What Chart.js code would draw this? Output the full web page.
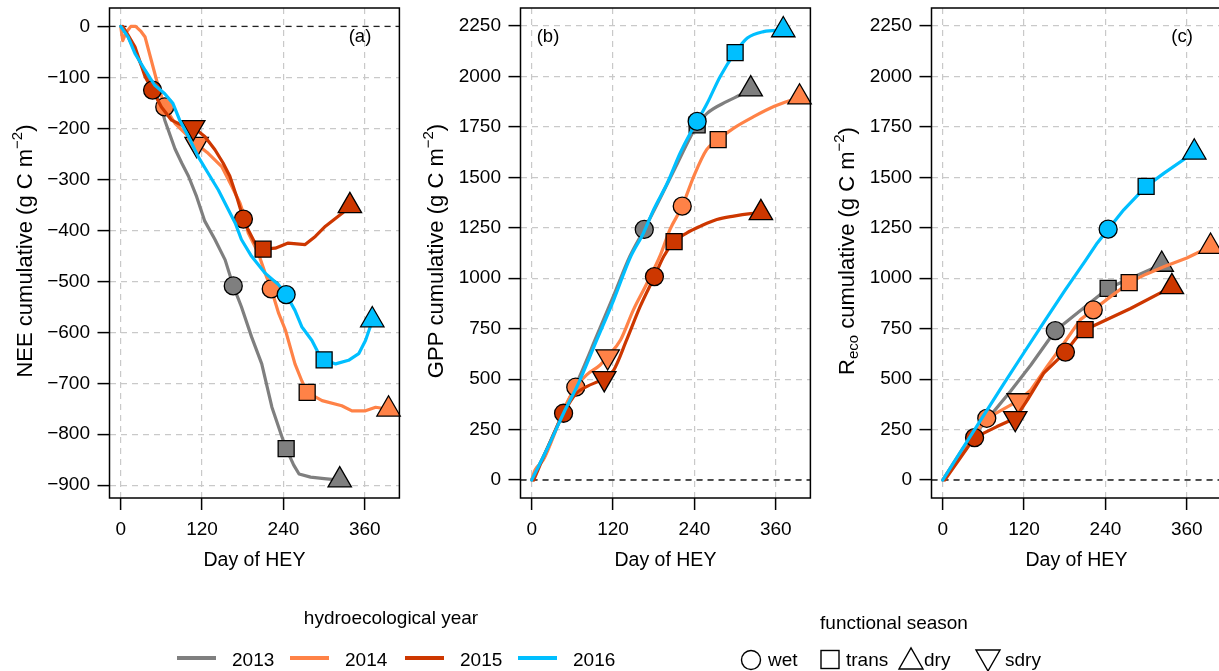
<!DOCTYPE html>
<html><head><meta charset="utf-8">
<script src="https://cdn.jsdelivr.net/npm/chart.js@4"></script>
<style>
html,body{margin:0;padding:0;background:#fff;overflow:hidden;}
#wrap{position:relative;width:1219px;height:671px;overflow:hidden;background:#fff;}
canvas.panel{position:absolute;top:0;}
#legend{position:absolute;left:0;top:0;}
#legend text{font-family:"Liberation Sans",Arial,sans-serif;font-size:19px;fill:#000;}
</style></head>
<body>
<div id="wrap">
<canvas id="pa" class="panel" width="411" height="580" style="left:0px"></canvas>
<canvas id="pb" class="panel" width="411" height="580" style="left:411px"></canvas>
<canvas id="pc" class="panel" width="411" height="580" style="left:822px"></canvas>
<svg id="legend" width="1219" height="671">
  <text x="391" y="617" text-anchor="middle" dominant-baseline="central">hydroecological year</text>
  <line x1="177" x2="216" y1="658" y2="658" stroke="#7f7f7f" stroke-width="4"/>
  <text x="232" y="659" dominant-baseline="central">2013</text>
  <line x1="290" x2="329" y1="658" y2="658" stroke="#ff8247" stroke-width="4"/>
  <text x="345" y="659" dominant-baseline="central">2014</text>
  <line x1="405" x2="444" y1="658" y2="658" stroke="#cd3700" stroke-width="4"/>
  <text x="460" y="659" dominant-baseline="central">2015</text>
  <line x1="518" x2="557" y1="658" y2="658" stroke="#00bfff" stroke-width="4"/>
  <text x="573" y="659" dominant-baseline="central">2016</text>
  <text x="894" y="622" text-anchor="middle" dominant-baseline="central">functional season</text>
  <circle cx="751" cy="660" r="9.5" fill="none" stroke="#000" stroke-width="1.4"/>
  <text x="768" y="659" dominant-baseline="central">wet</text>
  <rect x="821" y="650.5" width="18" height="18" fill="none" stroke="#000" stroke-width="1.4"/>
  <text x="846" y="659" dominant-baseline="central">trans</text>
  <polygon points="899,669 923,669 911,648" fill="none" stroke="#000" stroke-width="1.4"/>
  <text x="924" y="659" dominant-baseline="central">dry</text>
  <polygon points="976,650 1000,650 988,671" fill="none" stroke="#000" stroke-width="1.4"/>
  <text x="1005" y="659" dominant-baseline="central">sdry</text>
</svg>
</div>
<script>
// ---------------- DATA ----------------
const years = ['2013', '2014', '2015', '2016'];
const xTickValues = [0, 120, 240, 360];
const neeTickValues = [0, -100, -200, -300, -400, -500, -600, -700, -800, -900];
const fluxTickValues = [0, 250, 500, 750, 1000, 1250, 1500, 1750, 2000, 2250];

// NEE cumulative lines (day of HEY, g C m-2)
const neeDay2013 = [0, 10, 20, 30, 40, 50, 60, 65, 80, 90, 100, 112, 124, 139, 154, 166, 178, 193, 208, 223, 238, 244, 255, 263, 280, 300, 323];
const nee2013 = [0, -18, -45, -75, -100, -125, -160, -184, -240, -268, -294, -334, -382, -418, -458, -509, -550, -609, -662, -747, -806, -828, -860, -878, -884, -887, -890];
const neeDay2014 = [0, 3, 8, 15, 22, 30, 36, 45, 53, 65, 80, 100, 112, 129, 149, 164, 176, 184, 188, 203, 213, 222, 233, 243, 257, 267, 275, 297, 326, 341, 361, 376, 395];
const nee2014 = [0, -28, -12, 0, 0, -10, -21, -66, -106, -158, -190, -216, -231, -249, -275, -314, -347, -379, -405, -445, -484, -515, -563, -596, -662, -695, -718, -734, -744, -754, -754, -747, -751];
const neeDay2015 = [3, 10, 21, 36, 47, 60, 75, 95, 107, 124, 139, 151, 161, 171, 181, 188, 198, 210, 228, 247, 272, 287, 302, 327, 338];
const nee2015 = [0, -15, -40, -99, -125, -158, -184, -197, -198, -216, -242, -268, -294, -334, -378, -399, -425, -437, -435, -425, -428, -412, -392, -366, -352];
const neeDay2016 = [0, 11, 21, 36, 50, 65, 77, 87, 100, 114, 129, 144, 159, 169, 178, 193, 213, 233, 244, 257, 267, 282, 292, 300, 317, 336, 351, 361, 368, 371];
const nee2016 = [0, -21, -53, -86, -115, -132, -151, -184, -216, -255, -288, -321, -360, -386, -418, -451, -484, -507, -526, -557, -589, -616, -642, -654, -662, -655, -642, -616, -589, -576];

// GPP cumulative lines
const gppDay2013 = [0, 22, 47, 69, 96, 121, 145, 166, 190, 215, 244, 259, 288, 308, 323];
const gpp2013 = [0, 150, 340, 500, 715, 915, 1110, 1242, 1400, 1570, 1760, 1818, 1876, 1909, 1937];
const gppDay2014 = [0, 5, 17, 32, 47, 65, 81, 101, 112, 131, 150, 170, 190, 204, 222, 239, 258, 275, 298, 328, 357, 395];
const gpp2014 = [0, 50, 99, 215, 347, 460, 521, 570, 612, 694, 843, 975, 1117, 1242, 1357, 1505, 1637, 1687, 1744, 1802, 1851, 1897];
const gppDay2015 = [3, 22, 47, 66, 81, 107, 121, 140, 160, 181, 195, 210, 229, 249, 273, 298, 323, 338];
const gpp2015 = [0, 149, 331, 430, 463, 504, 545, 694, 860, 1008, 1110, 1181, 1225, 1258, 1291, 1308, 1320, 1324];
const gppDay2016 = [0, 22, 47, 69, 96, 121, 145, 165, 180, 200, 219, 234, 244, 259, 278, 300, 318, 342, 371];
const gpp2016 = [0, 149, 331, 479, 694, 893, 1100, 1225, 1341, 1472, 1621, 1720, 1777, 1868, 2000, 2118, 2190, 2222, 2230];

// Reco cumulative lines
const recoDay2013 = [0, 35, 70, 100, 130, 166, 244, 323];
const reco2013 = [0, 178, 318, 440, 570, 740, 950, 1068];
const recoDay2014 = [0, 30, 65, 112, 130, 154, 179, 203, 222, 250, 275, 300, 327, 360, 395];
const reco2014 = [0, 158, 306, 394, 447, 563, 679, 795, 843, 915, 978, 1020, 1058, 1100, 1157];
const recoDay2015 = [3, 47, 80, 107, 125, 149, 181, 199, 210, 277, 338];
const reco2015 = [0, 210, 265, 306, 397, 530, 634, 712, 745, 850, 957];
const recoDay2016 = [0, 30, 60, 90, 120, 150, 180, 210, 228, 244, 267, 300, 327, 371];
const reco2016 = [0, 160, 318, 476, 632, 786, 938, 1085, 1175, 1243, 1339, 1455, 1522, 1624];

// functional season end markers
const seasonDay2013 = [166, 244, 323];
const season2013 = ['wet', 'trans', 'dry'];
const seasonDay2014 = [65, 112, 222, 275, 395];
const season2014 = ['wet', 'sdry', 'wet', 'trans', 'dry'];
const seasonDay2015 = [47, 107, 181, 210, 338];
const season2015 = ['wet', 'sdry', 'wet', 'trans', 'dry'];
const seasonDay2016 = [244, 300, 371];
const season2016 = ['wet', 'trans', 'dry'];

const neeMark2013 = [-509, -828, -890];
const neeMark2014 = [-158, -231, -515, -718, -751];
const neeMark2015 = [-125, -198, -378, -437, -352];
const neeMark2016 = [-526, -654, -576];
const gppMark2013 = [1242, 1760, 1937];
const gppMark2014 = [460, 612, 1357, 1687, 1897];
const gppMark2015 = [331, 504, 1008, 1181, 1324];
const gppMark2016 = [1777, 2118, 2230];
const recoMark2013 = [740, 950, 1068];
const recoMark2014 = [306, 394, 843, 978, 1157];
const recoMark2015 = [210, 306, 634, 745, 957];
const recoMark2016 = [1243, 1455, 1624];

// ---------------- STYLE ----------------
const FONT = '"Liberation Sans", Arial, sans-serif';
const TICK_FS = 19;
const XT_FS = 19.5;
const YT_FS = 22;
const yearColors = ['#7f7f7f', '#ff8247', '#cd3700', '#00bfff'];
const shapeOf = { wet: 'circle', trans: 'rect', dry: 'triangle', sdry: 'triangle' };
const radiusOf = { wet: 9, trans: 11.3, dry: 13.5, sdry: 13.5 };
const rotOf = { wet: 0, trans: 0, dry: 0, sdry: 180 };

const seasonDays = [seasonDay2013, seasonDay2014, seasonDay2015, seasonDay2016];
const seasons = [season2013, season2014, season2015, season2016];

function pts(xs, ys) { return xs.map((x, i) => ({ x: x, y: ys[i] })); }
function fmt(v) { return v < 0 ? '\u2212' + Math.abs(v) : String(v); }

function buildDatasets(lineDays, lineVals, markVals, smooth) {
  const ds = [];
  for (let i = 0; i < 4; i++) {
    ds.push({
      label: years[i],
      data: pts(lineDays[i], lineVals[i]),
      borderColor: yearColors[i],
      borderWidth: 3.2,
      borderCapStyle: 'round',
      borderJoinStyle: 'round',
      pointRadius: 0,
      fill: false,
      tension: 0,
      cubicInterpolationMode: smooth ? 'monotone' : 'default',
      order: 8 - 2 * i
    });
    const s = seasons[i];
    ds.push({
      label: years[i] + ' seasons',
      data: pts(seasonDays[i], markVals[i]),
      showLine: false,
      backgroundColor: yearColors[i],
      borderColor: '#000',
      pointBorderWidth: 1.3,
      pointStyle: c => shapeOf[s[c.dataIndex]],
      pointRadius: c => radiusOf[s[c.dataIndex]],
      pointRotation: c => rotOf[s[c.dataIndex]],
      pointBackgroundColor: yearColors[i],
      pointBorderColor: '#000',
      clip: false,
      order: 7 - 2 * i
    });
  }
  return ds;
}

function drawRich(ctx, parts, cx, cy) {
  ctx.save();
  ctx.translate(cx, cy);
  ctx.rotate(-Math.PI / 2);
  let total = 0;
  parts.forEach(p => { ctx.font = p.s + 'px ' + FONT; p.w = ctx.measureText(p.t).width; total += p.w; });
  let x = -total / 2;
  ctx.textBaseline = 'middle';
  ctx.textAlign = 'left';
  ctx.fillStyle = '#000';
  parts.forEach(p => { ctx.font = p.s + 'px ' + FONT; ctx.fillText(p.t, x, p.dy || 0); x += p.w; });
  ctx.restore();
}

const decor = {
  id: 'decor',
  beforeDatasetsDraw(chart, args, o) {
    const { ctx, chartArea: a, scales } = chart;
    const y0 = scales.y.getPixelForValue(0);
    ctx.save();
    ctx.beginPath();
    ctx.setLineDash([6, 5]);
    ctx.strokeStyle = '#222';
    ctx.lineWidth = 1.4;
    ctx.moveTo(a.left, y0);
    ctx.lineTo(a.right, y0);
    ctx.stroke();
    ctx.restore();
  },
  afterDraw(chart, args, o) {
    const { ctx, chartArea: a } = chart;
    ctx.save();
    ctx.setLineDash([]);
    ctx.strokeStyle = '#000';
    ctx.lineWidth = 1.5;
    ctx.strokeRect(a.left, a.top, a.right - a.left, a.bottom - a.top);
    ctx.font = '18.5px ' + FONT;
    ctx.fillStyle = '#000';
    ctx.textAlign = 'center';
    ctx.textBaseline = 'middle';
    ctx.fillText(o.label, a.left + o.labelDx, a.top + 29);
    ctx.restore();
    drawRich(ctx, o.ytitle, a.left - 84, 251);
  }
};

function axisCommon(tickVals, min, max, isX) {
  return {
    type: 'linear',
    min: min,
    max: max,
    afterBuildTicks: s => { s.ticks = tickVals.map(v => ({ value: v })); },
    afterFit: s => {
      if (isX) { s.height = 82; s.paddingLeft = 0; s.paddingRight = 0; }
      else { s.width = 109.5; s.paddingTop = 0; s.paddingBottom = 0; }
    },
    grid: {
      color: '#c9c9c9', lineWidth: 1.2,
      drawTicks: true, tickLength: 12, tickColor: '#000', tickWidth: 1.5, tickBorderDash: []
    },
    border: { display: false, dash: [6, 5] },
    ticks: {
      font: { family: FONT, size: TICK_FS }, color: '#000',
      padding: isX ? 8 : 7.5, maxRotation: 0, autoSkip: false,
      callback: v => fmt(v)
    },
    title: isX ? { display: true, text: 'Day of HEY', font: { family: FONT, size: XT_FS }, color: '#000', padding: { top: 0, bottom: 8 } } : { display: false }
  };
}

function makePanel(id, datasets, yTicks, ymin, ymax, label, labelDx, ytitle) {
  new Chart(document.getElementById(id), {
    type: 'line',
    data: { datasets: datasets },
    options: {
      responsive: false,
      animation: false,
      devicePixelRatio: 1,
      layout: { autoPadding: false, padding: { left: 0, right: 11.6, top: 8, bottom: 0 } },
      plugins: {
        legend: { display: false },
        tooltip: { enabled: false },
        decor: { label: label, labelDx: labelDx, ytitle: ytitle }
      },
      scales: {
        x: axisCommon(xTickValues, -16.5, 411, true),
        y: axisCommon(yTicks, ymin, ymax, false)
      }
    },
    plugins: [decor]
  });
}

const sup = [{ t: '\u22122', s: 15, dy: -8 }, { t: ')', s: YT_FS }];

makePanel('pa',
  buildDatasets([neeDay2013, neeDay2014, neeDay2015, neeDay2016], [nee2013, nee2014, nee2015, nee2016],
    [neeMark2013, neeMark2014, neeMark2015, neeMark2016], false),
  neeTickValues, -925, 36, '(a)', 250.5,
  [{ t: 'NEE cumulative (g C m', s: YT_FS }].concat(sup));

makePanel('pb',
  buildDatasets([gppDay2013, gppDay2014, gppDay2015, gppDay2016], [gpp2013, gpp2014, gpp2015, gpp2016],
    [gppMark2013, gppMark2014, gppMark2015, gppMark2016], true),
  fluxTickValues, -89, 2339, '(b)', 27.5,
  [{ t: 'GPP cumulative (g C m', s: YT_FS }].concat(sup));

makePanel('pc',
  buildDatasets([recoDay2013, recoDay2014, recoDay2015, recoDay2016], [reco2013, reco2014, reco2015, reco2016],
    [recoMark2013, recoMark2014, recoMark2015, recoMark2016], false),
  fluxTickValues, -89, 2339, '(c)', 250.5,
  [{ t: 'R', s: YT_FS }, { t: 'eco', s: 15, dy: 6 }, { t: ' cumulative (g C m', s: YT_FS }].concat(sup));
</script>
</body></html>
